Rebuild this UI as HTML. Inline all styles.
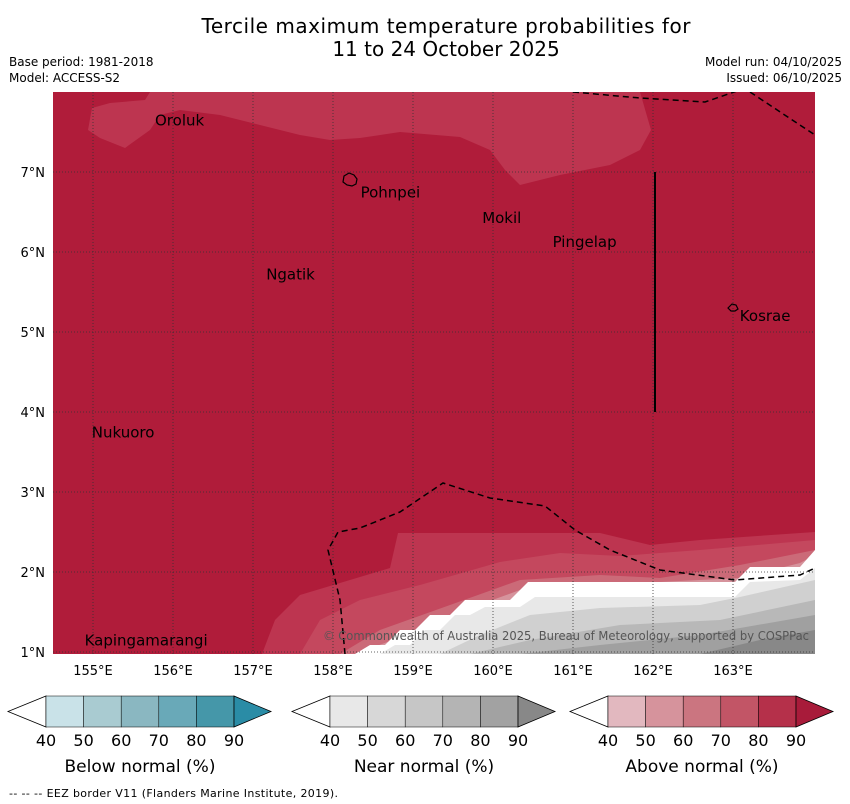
<!DOCTYPE html>
<html><head><meta charset="utf-8"><style>
body{margin:0;background:#fff;width:850px;height:804px;overflow:hidden;font-family:"DejaVu Sans","Liberation Sans",sans-serif}
svg{position:absolute;left:0;top:0}
</style></head><body>
<svg width="850" height="804" font-family="DejaVu Sans, Liberation Sans, sans-serif">
<text x="446" y="33" text-anchor="middle" font-size="20" textLength="489">Tercile maximum temperature probabilities for</text>
<text x="446" y="56" text-anchor="middle" font-size="20">11 to 24 October 2025</text>
<text x="9" y="66" font-size="12">Base period: 1981-2018</text>
<text x="9" y="82" font-size="12">Model: ACCESS-S2</text>
<text x="842" y="66" font-size="12" text-anchor="end">Model run: 04/10/2025</text>
<text x="842" y="82" font-size="12" text-anchor="end">Issued: 06/10/2025</text>
<defs><clipPath id="mc"><rect x="53" y="92" width="762" height="562"/></clipPath></defs>
<g clip-path="url(#mc)">
<rect x="53" y="92" width="762" height="562" fill="#b01c3a"/>
<polygon fill="#bd3550" points="88,130 92,108 110,103 145,100 150,92 640,92 651,130 640,150 610,165 560,175 520,185 505,170 490,150 460,137 400,132 360,138 330,140 300,135 260,125 220,115 180,110 160,115 150,130 125,148 100,138"/>
<polygon fill="#bd3550" points="262,654 275,620 300,595 390,568 398,533 600,533 650,545 700,540 815,532 815,654"/>
<polygon fill="#c4485e" points="300,654 320,620 360,600 420,585 500,562 560,553 620,556 700,550 815,540 815,654"/>
<polygon fill="#cb6a78" points="340,654 380,630 450,605 520,580 600,575 660,578 740,565 815,550 815,654"/>
<polygon fill="#d6939c" points="355,654 420,630 470,608 520,590 600,585 740,578 800,563 815,555 815,654"/>
<polygon fill="#ffffff" points="355,654 370,645 385,645 400,630 415,630 430,615 450,615 465,600 510,600 528,582 735,582 750,567 800,567 815,550 815,654"/>
<polygon fill="#e8e8e8" points="380,654 395,645 410,645 425,630 440,630 455,615 470,615 485,607 520,607 535,597 735,597 750,582 800,580 815,568 815,654"/>
<polygon fill="#d0d0d0" points="440,654 480,635 530,615 600,608 700,605 740,597 815,580 815,654"/>
<polygon fill="#b8b8b8" points="470,654 530,640 620,625 720,620 815,600 815,654"/>
<polygon fill="#a0a0a0" points="520,654 600,645 700,635 815,615 815,654"/>
<polygon fill="#888888" points="700,654 760,640 815,630 815,654"/>
<g id="grid" stroke="#333" stroke-width="0.8" stroke-dasharray="1,2"></g>
<polyline fill="none" stroke="#000" stroke-width="1.5" stroke-dasharray="6,4" points="573,92 640,98 705,102 740,90"/>
<polyline fill="none" stroke="#000" stroke-width="1.5" stroke-dasharray="6,4" points="750,92 815,135"/>
<polyline fill="none" stroke="#000" stroke-width="1.5" stroke-dasharray="6,4" points="345,654 340,600 328,550 338,532 360,528 400,512 443,483 490,498 545,506 575,530 610,550 660,570 735,580 800,575 815,568"/>
<line x1="655" y1="172" x2="655" y2="412" stroke="#000" stroke-width="2"/>
<path d="M344,176 l5,-3 5,2 3,4 -1,5 -4,2 -5,-1 -4,-3z" fill="none" stroke="#000" stroke-width="1.2"/>
<path d="M728,308 l4,-4 4,1 2,4 -3,2 -4,0z" fill="none" stroke="#000" stroke-width="1.2"/>
<g id="labels" font-size="15"></g>
<text x="323" y="640" font-size="12" fill="#555" textLength="486" lengthAdjust="spacingAndGlyphs">© Commonwealth of Australia 2025, Bureau of Meteorology, supported by COSPPac</text>
</g>
<g id="axes" font-size="13"></g>
<g id="cbars"></g>
<text x="9" y="797" font-size="11" textLength="329">--  --  -- EEZ border V11 (Flanders Marine Institute, 2019).</text>
</svg>
<script>
const lonTicks=[155,156,157,158,159,160,161,162,163];
const latTicks=[1,2,3,4,5,6,7];
const islandNames=["Oroluk","Pohnpei","Mokil","Pingelap","Ngatik","Kosrae","Nukuoro","Kapingamarangi"];
const islandLon=[155.75,158.32,159.84,160.72,157.14,163.06,154.96,154.87];
const islandLat=[7.705,6.805,6.485,6.185,5.78,5.26,3.805,1.205];
const legendTitles=["Below normal (%)","Near normal (%)","Above normal (%)"];
const legendTicks=[40,50,60,70,80,90];
const legendColors=[["#c9e2e8","#a9cbd1","#8ab7c1","#69a9b8","#4597a9","#2a8ca6"],["#e8e8e8","#d7d7d7","#c6c6c6","#b4b4b4","#a2a2a2","#888888"],["#e2b8bf","#d6939c","#cb7580","#c25566","#b5304a","#a81b3a"]];
const ns="http://www.w3.org/2000/svg";
const X=l=>93+(l-155)*80, Y=l=>652-(l-1)*80;
function mk(t,a,p){const e=document.createElementNS(ns,t);for(const k in a)e.setAttribute(k,a[k]);p.appendChild(e);return e;}
const grid=document.getElementById('grid'),axes=document.getElementById('axes'),lab=document.getElementById('labels'),cb=document.getElementById('cbars');
lonTicks.forEach(l=>{const g=mk('line',{x1:X(l),x2:X(l),y1:92,y2:654},grid);


const t=mk('text',{x:X(l),y:675,'text-anchor':'middle'},axes);t.textContent=l+'°E';

});
latTicks.forEach(l=>{const g=mk('line',{x1:53,x2:815,y1:Y(l),y2:Y(l)},grid);


const t=mk('text',{x:45,y:Y(l)+5,'text-anchor':'end'},axes);t.textContent=l+'°N';

});
islandNames.forEach((n,i)=>{const t=mk('text',{x:X(islandLon[i])+2,y:Y(islandLat[i])+10},lab);t.textContent=n;

});
const x0=[8,292,570];
legendTitles.forEach((tt,j)=>{const g=mk('g',{},cb);


const a=x0[j]+38,w=37.6;const y1=696,y2=727;
mk('polygon',{points:`${x0[j]},${(y1+y2)/2} ${a},${y1} ${a},${y2}`,fill:'#fff',stroke:'#000','stroke-width':0.8},g);
for(let k=0;k<5;k++)mk('rect',{x:a+k*w,y:y1,width:w,height:y2-y1,fill:legendColors[j][k],stroke:'#000','stroke-width':0.5},g);
const e=a+5*w;mk('polygon',{points:`${e},${y1} ${e+37},${(y1+y2)/2} ${e},${y2}`,fill:legendColors[j][5],stroke:'#000','stroke-width':0.8},g);
legendTicks.forEach((v,k)=>{const t=mk('text',{x:a+k*w,y:746,'text-anchor':'middle','font-size':16},g);t.textContent=v;});
const t=mk('text',{x:a+2.5*w,y:772,'text-anchor':'middle','font-size':17},g);t.textContent=tt;});
</script>
</body></html>
